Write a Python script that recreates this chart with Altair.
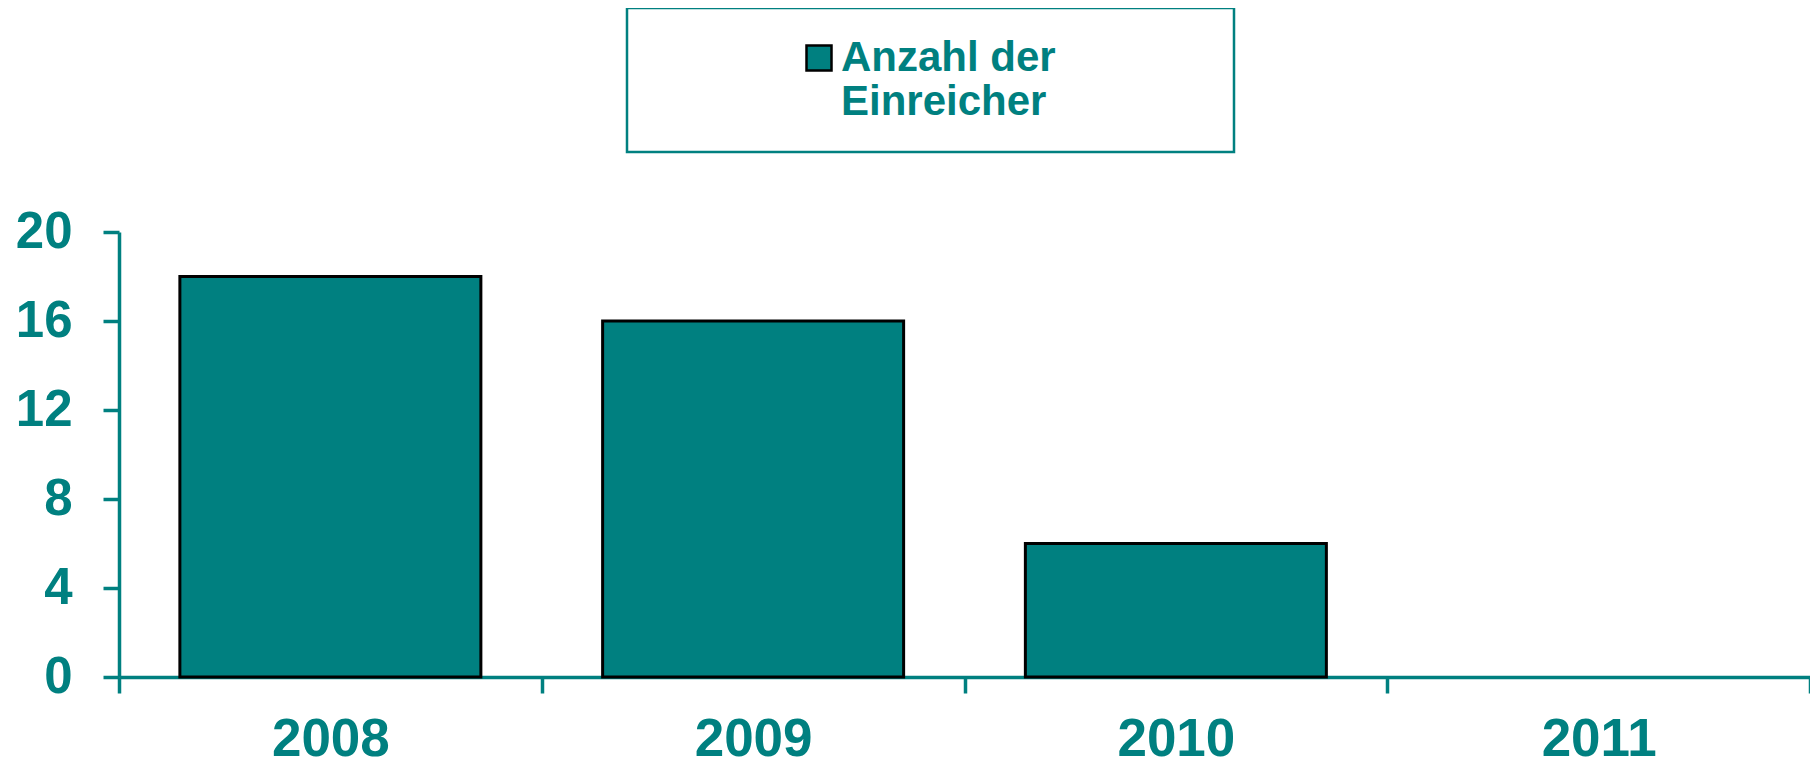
import altair as alt
import pandas as pd

YEARS = ["2008", "2009", "2010", "2011"]
COUNTS = [18, 16, 6, 0]
SERIES = "Anzahl der Einreicher"
LEGEND_LINES = ["Anzahl der", "Einreicher"]
Y_TICKS = [0, 4, 8, 12, 16, 20]

TEAL = "#008080"
FONT = "Liberation Sans"

df = pd.DataFrame({"year": YEARS, "count": COUNTS, "series": [SERIES] * len(YEARS)})

# trailing non-breaking spaces (kept by a zero-width space) widen the legend box
pad = "\u00a0" * 12 + "\u2009" + "\u200b"
lines = [LEGEND_LINES[0] + pad] + LEGEND_LINES[1:]
label_expr = "[" + ", ".join("'" + s + "'" for s in lines) + "]"

legend = alt.Legend(
    title=None,
    orient="none",
    legendX=508,
    legendY=-224,
    padding=29,
    strokeColor=TEAL,
    symbolType="square",
    symbolSize=625,
    symbolStrokeColor="black",
    symbolStrokeWidth=2.5,
    symbolOffset=142,
    labelOffset=1,
    labelFontSize=42,
    labelFontWeight="bold",
    labelColor=TEAL,
    labelFont=FONT,
    labelLimit=2000,
    labelExpr=label_expr,
)

chart = (
    alt.Chart(df)
    .transform_filter("datum.count > 0")
    .mark_bar(stroke="black", strokeWidth=3, width=alt.RelativeBandSize(0.712))
    .encode(
        x=alt.X(
            "year:N",
            scale=alt.Scale(domain=YEARS, paddingInner=0, paddingOuter=0),
            axis=alt.Axis(
                title=None,
                labelAngle=0,
                tickBand="extent",
                labelFontSize=53,
                labelPadding=20,
            ),
        ),
        y=alt.Y(
            "count:Q",
            scale=alt.Scale(domain=[0, 20], nice=False),
            axis=alt.Axis(
                title=None,
                values=Y_TICKS,
                grid=False,
                labelFontSize=51,
                labelPadding=31,
            ),
        ),
        color=alt.Color("series:N", scale=alt.Scale(range=[TEAL]), legend=legend),
    )
    .properties(
        width=1691,
        height=445,
        padding={"left": 111, "top": 224, "right": 0, "bottom": 80},
        autosize=alt.AutoSizeParams(type="none"),
    )
    .configure_view(stroke=None)
    .configure_axis(
        domainColor=TEAL,
        domainWidth=3.5,
        tickColor=TEAL,
        tickWidth=3.5,
        tickSize=16,
        labelColor=TEAL,
        labelFont=FONT,
        labelFontWeight="bold",
    )
    .configure_legend(strokeWidth=2.5)
)

chart.save("out.html", embed_options={"renderer": "svg", "actions": False})
